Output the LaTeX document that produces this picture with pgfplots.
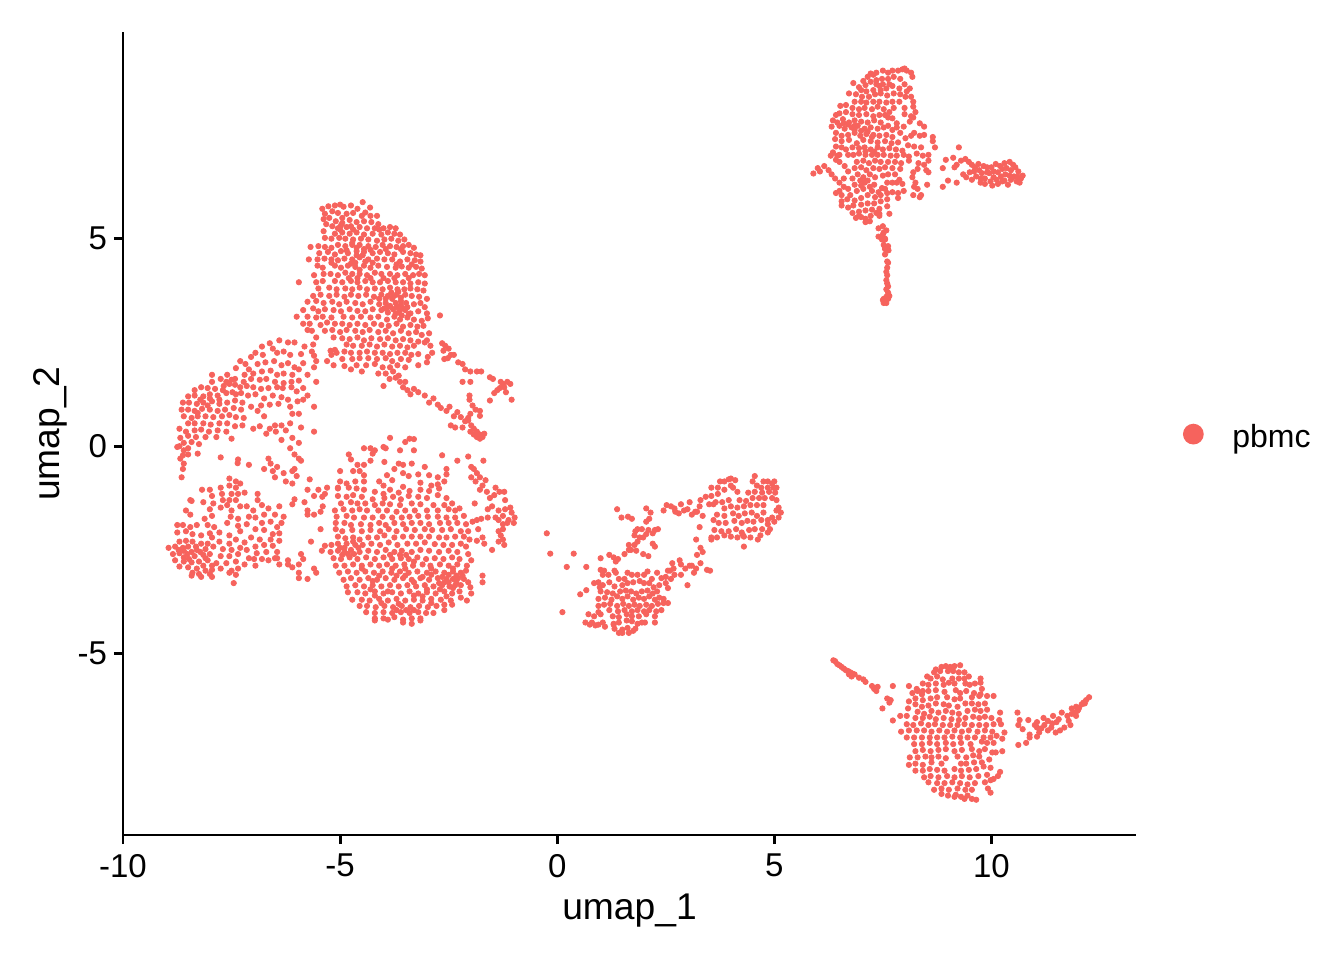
\documentclass[border=0pt]{standalone}
\usepackage{pgfplots}
\pgfplotsset{compat=1.18}
\usepackage{fontspec}
\setmainfont{Liberation Sans}
\definecolor{pbmc}{HTML}{F6635D}
\begin{document}
\begin{tikzpicture}[x=1pt,y=1pt]
\path[use as bounding box] (0,0) rectangle (672,480);
\begin{axis}[
    scale only axis,
    at={(61.5pt,62.5pt)},
    anchor=south west,
    width=506.5pt,
    height=401.5pt,
    xmin=-10, xmax=13.33,
    ymin=-9.37, ymax=9.98,
    axis lines*=left,
    axis line style={-,line width=1.4pt,black},
    tick style={line width=1.4pt,black},
    tick align=outside,
    major tick length=4.5pt,
    xtick={-10,-5,0,5,10},
    ytick={-5,0,5},
    /pgf/number format/assume math mode=true,
    ticklabel style={font=\fontsize{16.5}{16.5}\selectfont},
    xticklabel style={yshift=-1.5pt},
    xlabel={umap\_1},
    ylabel={umap\_2},
    label style={font=\fontsize{18.6}{18.6}\selectfont},
    xlabel style={yshift=-1.5pt},
    ylabel style={yshift=-1.5pt},
    legend style={draw=none,fill=none,at={(1.0434,0.4955)},anchor=west,font=\fontsize{16}{16}\selectfont,inner sep=0pt},
    legend image code/.code={\fill[pbmc,draw=none] (6.5pt,1.5pt) circle (5.2pt);\path[draw=none,fill=none] (0,0) rectangle (24pt,1pt);},
]
\addplot[only marks,mark=*,mark size=1.33pt,color=pbmc,mark options={draw=none,fill=pbmc}] coordinates {
% top cluster
(-4.48,5.88)(-4.31,5.75)(-5.41,5.72)(-5.27,5.78)(-5.12,5.8)(-5.0,5.82)(-4.92,5.77)(-4.75,5.8)(-4.6,5.72)(-4.42,5.63)(-5.35,5.6)(-5.18,5.66)(-5.05,5.62)(-4.85,5.6)(-4.7,5.62)(-4.5,5.55)(-4.3,5.55)(-4.15,5.55)
(-5.38,5.47)(-5.25,5.5)(-5.1,5.42)(-4.95,5.5)(-4.78,5.45)(-4.62,5.4)(-4.45,5.42)(-4.28,5.4)(-4.12,5.35)(-5.32,5.35)(-5.18,5.3)(-4.98,5.32)(-4.85,5.28)(-4.55,5.28)(-4.38,5.25)(-4.2,5.25)(-4.0,5.25)(-3.85,5.28)(-3.72,5.25)
(-5.38,5.18)(-5.12,5.12)(-4.95,5.15)(-4.78,5.12)(-4.62,5.15)(-4.45,5.1)(-4.25,5.12)(-4.05,5.1)(-3.9,5.15)(-3.75,5.12)(-3.62,5.1)(-5.35,5.02)(-5.2,5.0)(-5.02,5.02)(-4.88,5.0)(-4.7,4.98)(-4.52,5.0)(-4.35,4.98)(-4.15,4.95)(-3.98,4.98)(-3.82,5.0)(-3.66,4.95)(-3.52,4.98)
(-5.68,4.8)(-5.5,4.82)(-5.35,4.8)(-5.2,4.78)(-5.05,4.85)(-4.88,4.82)(-4.72,4.85)(-4.55,4.85)(-4.35,4.82)(-4.18,4.8)(-4.02,4.85)(-3.85,4.82)(-3.7,4.8)(-3.55,4.82)(-3.42,4.85)(-3.3,4.78)
(-5.72,4.5)(-5.48,4.65)(-5.28,4.68)(-5.12,4.62)(-4.98,4.7)(-4.82,4.65)(-4.62,4.7)(-4.45,4.68)(-4.25,4.65)(-4.08,4.68)(-3.9,4.65)(-3.75,4.62)(-3.55,4.68)(-3.38,4.65)(-3.25,4.62)(-3.15,4.6)
(-5.52,4.5)(-5.36,4.52)(-5.2,4.5)(-5.05,4.48)(-4.9,4.52)(-4.72,4.5)(-4.55,4.55)(-4.35,4.5)(-4.15,4.52)(-3.98,4.5)(-3.8,4.5)(-3.62,4.45)(-3.45,4.5)(-3.28,4.48)(-3.15,4.45)
(-5.52,4.35)(-5.4,4.3)(-5.12,4.35)(-4.98,4.3)(-4.82,4.35)(-4.65,4.32)(-4.45,4.35)(-4.3,4.3)(-4.12,4.35)(-3.92,4.32)(-3.72,4.3)(-3.58,4.33)(-3.42,4.3)(-3.25,4.32)(-3.12,4.28)
(-5.6,4.12)(-5.38,4.15)(-5.22,4.15)(-5.05,4.12)(-4.88,4.18)(-4.72,4.15)(-4.55,4.15)(-4.38,4.12)(-4.2,4.18)(-4.05,4.15)(-3.85,4.15)(-3.68,4.12)(-3.5,4.15)(-3.32,4.12)(-3.18,4.15)(-3.05,4.12)
(-5.95,3.95)(-5.55,3.95)(-5.4,3.98)(-5.12,3.98)(-4.95,3.95)(-4.75,3.98)(-4.6,3.95)(-4.42,3.98)(-4.25,3.95)(-4.08,3.95)(-3.9,3.98)(-3.72,3.95)(-3.55,3.95)(-3.38,3.92)(-3.2,3.95)(-3.05,3.92)
(-5.5,3.8)(-5.25,3.82)(-5.08,3.78)(-4.88,3.8)(-4.72,3.78)(-4.55,3.82)(-4.38,3.78)(-4.2,3.8)(-4.02,3.78)(-3.85,3.82)(-3.68,3.78)(-3.52,3.78)(-3.38,3.8)(-3.22,3.78)(-3.08,3.75)
(-5.62,3.62)(-5.45,3.65)(-5.25,3.62)(-5.08,3.65)(-4.9,3.6)(-4.75,3.65)(-4.58,3.62)(-4.4,3.65)(-4.22,3.6)(-4.05,3.65)(-3.9,3.62)(-3.8,3.55)(-3.7,3.65)(-3.6,3.58)(-3.5,3.65)(-3.35,3.62)(-3.18,3.6)(-3.0,3.55)
(-5.75,3.48)(-5.55,3.5)(-5.38,3.45)(-5.18,3.48)(-5.02,3.42)(-4.85,3.48)(-4.65,3.45)(-4.48,3.42)(-4.3,3.48)(-4.1,3.42)(-3.95,3.45)(-3.85,3.38)(-3.72,3.45)(-3.6,3.4)(-3.48,3.45)(-3.3,3.42)(-3.15,3.45)(-3.05,3.35)
(-5.85,3.28)(-5.62,3.32)(-5.5,3.25)(-5.35,3.3)(-5.15,3.28)(-4.98,3.25)(-4.78,3.3)(-4.6,3.26)(-4.42,3.25)(-4.25,3.3)(-4.05,3.28)(-3.9,3.22)(-3.78,3.3)(-3.65,3.22)(-3.5,3.28)(-3.38,3.2)(-3.2,3.25)(-3.0,3.2)
(-6.0,3.12)(-5.75,3.12)(-5.55,3.1)(-5.4,3.12)(-5.2,3.1)(-4.92,3.12)(-4.72,3.1)(-4.52,3.12)(-4.3,3.1)(-4.12,3.12)(-3.92,3.05)(-3.75,3.12)(-3.62,3.05)(-3.45,3.1)(-3.3,3.05)(-3.12,3.02)(-2.98,3.08)
(-5.85,2.95)(-5.7,2.95)(-5.45,2.92)(-5.3,2.98)(-5.12,2.95)(-4.95,2.95)(-4.78,2.92)(-4.6,2.95)(-4.42,2.92)(-4.22,2.95)(-4.05,2.92)(-3.88,2.9)(-3.7,2.95)(-3.55,2.88)(-3.38,2.92)(-3.22,2.88)(-3.08,2.9)
(-5.75,2.8)(-5.35,2.78)(-5.18,2.8)(-5.0,2.75)(-4.85,2.8)(-4.65,2.78)(-4.48,2.75)(-4.32,2.8)(-4.12,2.75)(-3.95,2.78)(-3.78,2.72)(-3.6,2.78)(-3.42,2.72)(-3.25,2.75)(-3.12,2.68)
(-5.15,2.62)(-4.95,2.6)(-4.78,2.58)(-4.6,2.62)(-4.45,2.55)(-4.28,2.6)(-4.08,2.58)(-3.9,2.6)(-3.72,2.55)(-3.55,2.58)(-3.38,2.55)(-3.2,2.52)(-4.85,2.45)(-4.7,2.42)(-4.5,2.42)(-4.32,2.45)(-4.15,2.4)(-3.98,2.45)(-3.8,2.4)(-3.62,2.42)(-3.45,2.38)(-3.3,2.42)
(-5.2,2.2)(-5.3,2.05)(-5.55,2.05)(-5.08,2.25)(-4.9,2.28)(-4.75,2.25)(-4.55,2.25)(-4.38,2.28)(-4.2,2.25)(-4.02,2.25)(-3.85,2.22)(-3.68,2.25)(-3.5,2.25)(-3.36,2.2)(-3.2,2.22)(-4.95,2.1)(-4.72,2.1)(-4.55,2.12)(-4.35,2.12)(-4.15,2.1)(-3.95,2.12)(-3.8,2.05)(-3.6,2.1)(-3.42,2.08)
(-5.12,2.32)(-5.22,2.3)(-4.62,1.95)(-4.4,1.95)(-4.2,1.98)(-4.02,1.9)(-3.85,1.9)(-3.68,1.95)(-3.5,1.9)(-4.9,1.93)(-4.75,1.85)(-4.5,1.8)(-4.12,1.75)(-3.95,1.75)(-3.78,1.8)(-5.15,1.95)(-3.86,1.62)
(-2.7,3.15)(-2.95,2.72)(-3.0,2.55)(-2.92,2.42)(-3.05,2.5)(-2.88,2.25)(-2.98,2.15)(-3.0,2.02)
(-4.8,4.05)(-4.6,4.05)(-4.3,4.05)(-4.0,4.05)(-3.75,4.05)(-3.42,4.05)(-5.2,4.42)(-4.65,4.42)(-4.25,4.42)(-3.7,4.38)(-3.35,4.38)(-5.0,5.22)(-4.7,5.22)(-4.1,5.22)(-4.85,4.72)(-4.3,4.73)(-3.95,4.75)(-3.6,4.75)
(-4.1,3.55)(-3.95,3.55)(-3.78,3.6)(-3.6,3.5)(-3.9,3.35)(-3.7,3.35)(-3.55,3.32)(-3.72,3.2)(-3.58,3.15)(-3.42,3.18)
(-3.82,3.7)(-3.66,3.72)(-3.98,3.32)(-3.62,3.28)(-3.45,3.35)(-4.72,4.9)(-4.62,4.78)(-4.45,4.75)(-4.62,4.6)(-4.48,4.6)(-4.75,4.4)(-4.55,4.25)(-4.42,4.45)(-4.95,5.38)(-5.05,5.25)(-4.75,5.3)
% line from the top cluster to the centre
(-3.72,1.65)(-3.62,1.55)(-3.55,1.42)(-3.45,1.35)(-3.38,1.25)(-3.3,1.38)(-3.2,1.3)(-3.05,1.22)(-2.95,1.05)(-2.85,1.15)(-2.75,1.0)(-2.68,0.92)(-2.55,0.85)(-2.48,0.95)(-2.38,0.72)(-2.3,0.82)(-2.22,0.7)(-2.12,0.6)(-2.05,0.62)(-1.98,0.5)(-1.92,0.42)(-1.85,0.35)(-1.78,0.28)(-1.92,0.28)(-2.0,0.35)(-1.72,0.22)(-1.85,0.22)(-2.18,0.45)(-2.35,0.45)(-2.45,0.5)(-1.68,0.3)(-1.78,0.18)
% branch on the right
(-2.65,2.48)(-2.58,2.42)(-2.62,2.3)(-2.5,2.35)(-2.45,2.2)(-2.52,2.12)(-2.38,2.2)(-2.28,2.02)(-2.18,1.98)(-2.12,1.85)(-2.0,1.8)(-1.85,1.8)(-1.75,1.8)(-2.18,1.55)(-2.0,1.55)(-1.55,1.66)(-1.48,1.62)(-1.3,1.55)(-1.25,1.5)(-1.15,1.55)(-1.08,1.5)(-1.38,1.35)(-1.32,1.4)(-1.22,1.42)(-1.18,1.3)(-1.45,1.28)(-1.55,1.1)(-1.05,1.12)(-2.02,1.22)(-2.02,1.12)(-1.95,0.98)(-1.88,0.88)(-1.78,0.85)(-1.78,0.73)(-2.05,0.68)(-2.0,0.78)
(-2.6,2.1)(-3.2,1.95)(-3.5,1.55)(-3.65,1.7)(-4.0,1.45)
% upper left band
(-6.62,2.48)(-6.4,2.55)(-6.2,2.5)(-6.05,2.5)(-5.65,2.78)(-5.55,2.62)(-5.62,2.45)(-5.82,2.4)(-6.8,2.4)(-6.55,2.35)(-6.95,2.25)(-7.05,2.15)(-6.78,2.2)(-6.45,2.25)(-6.3,2.28)(-6.15,2.2)(-5.9,2.22)(-5.65,2.28)(-5.6,2.18)(-7.18,1.98)(-7.3,2.05)(-7.1,1.85)(-6.9,1.98)(-6.72,2.02)(-6.52,2.05)(-6.35,1.95)(-6.2,2.0)(-6.05,1.9)(-5.85,2.0)
(-7.4,1.88)(-7.2,1.72)(-7.0,1.75)(-6.8,1.8)(-6.6,1.82)(-6.45,1.72)(-6.3,1.75)(-6.1,1.72)(-5.95,1.85)(-5.6,1.9)(-5.75,1.72)(-7.95,1.72)(-7.95,1.55)(-7.75,1.62)(-7.6,1.72)(-7.42,1.62)(-7.22,1.55)(-7.05,1.62)(-6.85,1.6)(-6.7,1.62)(-6.5,1.55)(-6.3,1.52)(-6.12,1.55)(-5.95,1.58)(-5.55,1.55)(-5.85,1.4)
(-8.35,1.35)(-8.2,1.42)(-8.05,1.4)(-7.88,1.38)(-7.68,1.45)(-7.55,1.5)(-7.42,1.48)(-7.3,1.42)(-7.15,1.45)(-7.0,1.42)(-6.82,1.38)(-6.65,1.4)(-6.45,1.42)(-6.32,1.4)(-6.12,1.42)(-6.0,1.32)(-5.75,1.22)
(-8.5,1.2)(-8.35,1.22)(-8.15,1.2)(-8.0,1.25)(-7.82,1.22)(-7.62,1.28)(-7.48,1.3)(-7.28,1.28)(-7.12,1.22)(-6.95,1.25)(-6.75,1.15)(-6.55,1.22)(-6.35,1.18)(-6.2,1.12)(-5.98,1.08)(-5.85,1.12)
(-8.62,1.05)(-8.48,1.05)(-8.3,1.02)(-8.15,1.05)(-7.95,1.08)(-7.78,1.02)(-7.6,1.05)(-7.42,1.1)(-7.25,1.05)(-7.05,0.95)(-6.82,0.98)(-6.62,1.0)(-6.42,1.02)(-6.15,0.95)(-5.6,0.95)(-8.65,0.88)(-8.5,0.88)(-8.35,0.85)(-8.18,0.9)(-8.0,0.88)(-7.82,0.85)(-7.65,0.88)(-7.45,0.92)(-7.28,0.88)(-6.9,0.85)(-5.95,0.78)(-6.1,0.78)
(-8.6,0.72)(-8.42,0.68)(-8.28,0.72)(-8.1,0.72)(-7.92,0.7)(-7.72,0.72)(-7.55,0.75)(-7.4,0.7)(-7.22,0.68)(-6.75,0.72)(-6.5,0.5)(-6.35,0.5)(-6.15,0.55)(-5.9,0.45)(-8.5,0.55)(-8.35,0.55)(-8.15,0.55)(-7.98,0.52)(-7.78,0.55)(-7.6,0.55)(-7.42,0.48)(-7.25,0.5)(-6.85,0.48)(-6.62,0.42)(-6.48,0.35)(-6.25,0.38)
(-8.7,0.42)(-8.55,0.35)(-8.35,0.38)(-8.2,0.4)(-8.02,0.35)(-7.82,0.38)(-7.62,0.35)(-7.0,0.42)(-6.7,0.3)(-5.6,0.35)(-8.68,0.2)(-8.5,0.25)(-8.32,0.22)(-8.1,0.22)(-7.85,0.22)(-7.5,0.18)(-6.1,0.2)(-6.35,0.15)(-5.95,0.08)(-8.6,0.08)(-8.42,0.1)(-8.25,0.05)
(-8.75,-0.02)(-8.6,-0.1)(-8.7,0.0)(-8.5,-0.05)(-8.62,-0.22)(-8.68,-0.3)(-8.6,-0.42)(-8.62,-0.55)(-8.65,-0.75)(-8.28,-0.18)(-8.5,-0.2)
(-7.5,1.6)(-7.62,1.55)(-7.7,1.35)(-7.4,1.25)(-7.78,1.12)(-8.0,1.15)(-8.22,1.12)(-8.05,0.98)(-8.28,0.8)
% scatter between the left and centre groups
(-7.75,-0.27)(-7.35,-0.32)(-7.36,-0.41)(-6.65,-0.3)(-6.6,-0.42)(-6.45,-0.5)(-6.05,-0.2)(-5.9,-0.35)(-6.1,-0.6)(-6.05,-0.55)(-6.0,-0.72)(-6.75,-0.55)(-7.1,-0.45)(-6.5,-0.75)(-6.25,-0.85)(-6.55,-0.6)(-6.3,-0.65)(-6.1,-0.9)(-5.7,-0.8)(-5.95,-0.3)(-6.15,-0.05)
(-5.75,-1.05)(-5.5,-1.05)(-5.35,-1.15)(-5.05,-1.0)(-5.3,-1.0)(-5.41,-1.22)(-5.4,-1.45)(-6.05,-1.28)(-5.82,-1.35)(-5.6,-1.2)(-6.1,-1.4)(-6.4,-1.45)(-5.75,-1.55)(-5.45,-1.58)(-5.75,-1.65)(-5.45,-2.0)(-5.6,-1.65)
(-5.67,-2.3)(-5.42,-2.52)(-5.35,-2.4)(-5.9,-2.6)(-5.85,-2.72)(-5.95,-2.85)(-6.2,-2.75)(-6.2,-2.85)(-6.45,-2.7)(-5.95,-3.05)(-5.6,-2.95)(-5.95,-3.18)(-5.75,-3.2)(-5.55,-3.05)(-6.1,-2.92)(-6.4,-2.85)
% lower left cluster
(-8.18,-1.05)(-7.55,-0.78)(-7.4,-0.85)(-7.3,-0.9)(-7.55,-0.95)(-7.75,-1.0)(-7.4,-1.0)(-8.0,-1.05)(-7.95,-1.2)(-7.72,-1.15)(-7.5,-1.15)(-7.35,-1.15)(-7.2,-1.12)(-6.9,-1.3)(-6.9,-1.15)(-8.15,-1.35)(-7.92,-1.38)(-7.7,-1.3)(-7.55,-1.3)(-7.4,-1.3)(-7.15,-1.45)
(-8.45,-1.3)(-8.42,-1.32)(-8.0,-1.52)(-7.75,-1.48)(-7.6,-1.42)(-7.5,-1.55)(-7.3,-1.45)(-7.0,-1.55)(-6.8,-1.42)(-6.65,-1.5)(-6.5,-1.65)(-6.75,-1.65)(-6.3,-1.7)(-6.35,-1.85)(-8.55,-1.55)(-8.45,-1.65)
(-8.12,-1.75)(-7.95,-1.68)(-7.52,-1.7)(-7.35,-1.75)(-7.1,-1.7)(-6.95,-1.72)(-6.8,-1.85)(-6.6,-1.82)(-6.45,-1.95)(-8.75,-1.9)(-8.62,-1.9)(-8.45,-1.95)(-8.3,-1.9)(-8.05,-1.9)(-7.9,-1.95)(-7.6,-1.85)(-7.35,-1.92)(-7.15,-1.88)(-6.95,-2.0)(-6.75,-2.02)(-6.55,-2.12)(-6.4,-2.1)
(-8.75,-2.08)(-8.55,-2.05)(-8.4,-2.12)(-8.2,-2.15)(-8.0,-2.1)(-7.95,-2.2)(-7.78,-2.08)(-7.55,-2.15)(-7.3,-2.05)(-7.05,-2.2)(-6.85,-2.25)(-6.6,-2.25)(-6.4,-2.28)
(-8.7,-2.3)(-8.55,-2.28)(-8.4,-2.3)(-8.2,-2.35)(-8.05,-2.35)(-7.78,-2.3)(-7.55,-2.35)(-7.4,-2.25)(-7.2,-2.32)(-6.95,-2.42)(-6.75,-2.38)(-6.55,-2.4)(-6.45,-2.55)
(-8.95,-2.45)(-8.8,-2.42)(-8.62,-2.45)(-8.5,-2.42)(-8.3,-2.5)(-8.1,-2.48)(-7.92,-2.42)(-7.7,-2.48)(-7.5,-2.5)(-7.3,-2.45)(-7.15,-2.5)(-6.92,-2.58)(-6.7,-2.55)(-6.5,-2.7)(-6.65,-2.75)
(-8.85,-2.6)(-8.7,-2.58)(-8.52,-2.6)(-8.35,-2.65)(-8.15,-2.62)(-8.0,-2.6)(-7.75,-2.65)(-7.55,-2.65)(-7.35,-2.6)(-7.1,-2.7)(-6.98,-2.72)(-6.8,-2.72)
(-8.8,-2.75)(-8.6,-2.78)(-8.42,-2.8)(-8.25,-2.78)(-8.05,-2.75)(-7.85,-2.82)(-7.62,-2.82)(-7.4,-2.78)(-7.2,-2.85)(-6.95,-2.88)(-7.35,-2.95)
(-8.7,-2.9)(-8.5,-2.92)(-8.3,-2.95)(-8.15,-2.88)(-7.95,-2.98)(-7.75,-2.95)(-8.4,-3.05)(-8.25,-3.08)(-8.1,-3.0)(-7.95,-3.15)(-7.55,-3.05)(-7.5,-3.0)(-7.4,-3.1)(-7.45,-3.3)(-8.42,-3.12)(-8.2,-3.15)(-8.0,-3.08)
(-8.72,-2.5)(-8.6,-2.52)(-8.42,-2.55)(-8.6,-2.68)(-8.48,-2.72)(-8.32,-2.42)(-8.22,-2.55)(-8.1,-2.7)(-7.95,-2.88)
% big lower centre cluster
(-3.95,-0.05)(-4.0,-0.02)(-3.4,0.18)(-3.3,0.17)(-3.5,0.1)(-4.2,-0.1)(-4.3,-0.05)(-4.25,-0.18)(-4.45,-0.05)(-3.85,0.2)(-3.62,-0.1)(-3.3,-0.1)(-2.65,-0.22)(-2.3,-0.35)(-4.8,-0.2)(-4.75,-0.32)(-4.6,-0.45)(-4.45,-0.45)(-4.3,-0.35)(-3.98,-0.38)(-3.65,-0.42)(-3.55,-0.45)(-3.35,-0.42)(-3.05,-0.5)(-2.55,-0.55)
(-5.0,-0.6)(-4.7,-0.6)(-4.55,-0.6)(-4.45,-0.7)(-3.92,-0.7)(-3.75,-0.55)(-3.55,-0.65)(-3.42,-0.72)(-3.2,-0.68)(-2.95,-0.7)(-2.75,-0.75)(-2.55,-0.68)(-2.6,-0.85)
(-5.0,-0.85)(-4.85,-0.9)(-4.65,-0.85)(-4.45,-0.85)(-4.1,-0.85)(-4.0,-0.95)(-3.8,-0.82)(-3.55,-0.98)(-3.15,-0.88)(-2.9,-0.95)(-2.75,-0.92)
(-5.05,-1.02)(-4.8,-1.0)(-4.62,-1.02)(-4.45,-1.05)(-4.2,-1.1)(-4.0,-1.15)(-3.85,-1.05)(-3.65,-1.12)(-3.4,-1.08)(-3.15,-1.05)(-2.95,-1.08)(-2.72,-1.02)
(-5.05,-1.2)(-4.85,-1.22)(-4.7,-1.18)(-4.5,-1.22)(-4.25,-1.28)(-3.98,-1.25)(-3.78,-1.22)(-3.6,-1.28)(-3.42,-1.2)(-3.2,-1.22)(-3.0,-1.25)(-2.75,-1.18)(-2.55,-1.25)
(-4.98,-1.38)(-4.75,-1.35)(-4.6,-1.38)(-4.42,-1.38)(-4.2,-1.42)(-4.02,-1.38)(-3.85,-1.4)(-3.62,-1.42)(-3.35,-1.38)(-3.15,-1.4)(-2.85,-1.42)(-2.6,-1.42)(-2.42,-1.38)
(-5.12,-1.55)(-4.92,-1.52)(-4.72,-1.55)(-4.55,-1.52)(-4.38,-1.55)(-4.12,-1.55)(-3.92,-1.55)(-3.7,-1.58)(-3.5,-1.55)(-3.28,-1.55)(-3.0,-1.55)(-2.75,-1.55)(-2.5,-1.52)(-2.35,-1.55)
(-5.08,-1.7)(-4.85,-1.68)(-4.68,-1.72)(-4.45,-1.72)(-4.25,-1.72)(-4.02,-1.7)(-3.8,-1.72)(-3.58,-1.72)(-3.4,-1.7)(-3.2,-1.68)(-2.98,-1.7)(-2.75,-1.7)(-2.55,-1.72)(-2.35,-1.72)(-2.15,-1.68)
(-5.1,-1.85)(-4.9,-1.85)(-4.75,-1.9)(-4.52,-1.88)(-4.3,-1.9)(-4.1,-1.85)(-3.95,-1.9)(-3.75,-1.85)(-3.55,-1.88)(-3.35,-1.85)(-3.15,-1.85)(-2.95,-1.88)(-2.7,-1.85)(-2.5,-1.85)(-2.3,-1.85)(-2.1,-1.88)
(-5.1,-2.0)(-4.95,-2.05)(-4.72,-2.02)(-4.5,-2.05)(-4.3,-2.02)(-4.08,-2.05)(-3.88,-2.0)(-3.7,-2.05)(-3.48,-2.0)(-3.28,-2.02)(-3.05,-2.0)(-2.88,-2.02)(-2.65,-2.02)(-2.45,-2.0)(-2.22,-2.05)(-2.05,-2.05)
(-5.05,-2.18)(-4.88,-2.22)(-4.7,-2.2)(-4.55,-2.25)(-4.35,-2.2)(-4.15,-2.2)(-3.98,-2.15)(-3.75,-2.2)(-3.55,-2.18)(-3.35,-2.18)(-3.15,-2.18)(-2.95,-2.18)(-2.72,-2.2)(-2.55,-2.2)(-2.35,-2.18)(-2.15,-2.18)(-2.02,-2.25)
(-5.2,-2.38)(-5.05,-2.35)(-4.85,-2.35)(-4.65,-2.38)(-4.48,-2.38)(-4.28,-2.35)(-4.08,-2.38)(-3.88,-2.32)(-3.68,-2.38)(-3.45,-2.35)(-3.25,-2.35)(-3.05,-2.32)(-2.82,-2.36)(-2.62,-2.38)(-2.42,-2.38)(-2.22,-2.35)(-2.1,-2.42)
(-5.22,-2.55)(-5.05,-2.52)(-4.9,-2.55)(-4.75,-2.5)(-4.55,-2.55)(-4.35,-2.52)(-4.15,-2.55)(-3.95,-2.5)(-3.75,-2.55)(-3.58,-2.52)(-3.35,-2.55)(-3.15,-2.5)(-2.95,-2.52)(-2.72,-2.55)(-2.5,-2.52)(-2.3,-2.55)(-2.05,-2.6)
(-5.15,-2.7)(-4.98,-2.72)(-4.78,-2.68)(-4.6,-2.72)(-4.4,-2.68)(-4.2,-2.72)(-4.0,-2.68)(-3.8,-2.72)(-3.6,-2.7)(-3.42,-2.72)(-3.22,-2.68)(-3.02,-2.72)(-2.82,-2.7)(-2.62,-2.72)(-2.42,-2.68)(-2.25,-2.72)(-1.98,-2.75)
(-5.1,-2.88)(-4.9,-2.88)(-4.7,-2.85)(-4.5,-2.88)(-4.3,-2.85)(-4.1,-2.88)(-3.92,-2.85)(-3.72,-2.88)(-3.52,-2.85)(-3.32,-2.88)(-3.1,-2.85)(-2.92,-2.88)(-2.7,-2.85)(-2.5,-2.88)(-2.3,-2.85)(-2.08,-2.88)
(-5.02,-3.05)(-4.82,-3.02)(-4.62,-3.05)(-4.42,-3.02)(-4.22,-3.05)(-4.02,-3.02)(-3.82,-3.05)(-3.62,-3.02)(-3.42,-3.05)(-3.22,-3.02)(-3.0,-3.05)(-2.8,-3.02)(-2.6,-3.05)(-2.4,-3.02)(-2.22,-3.05)(-2.1,-3.0)
(-4.92,-3.22)(-4.75,-3.18)(-4.55,-3.22)(-4.35,-3.18)(-4.15,-3.22)(-3.95,-3.18)(-3.75,-3.22)(-3.55,-3.18)(-3.35,-3.22)(-3.15,-3.18)(-2.95,-3.22)(-2.75,-3.18)(-2.55,-3.2)(-2.4,-3.2)(-2.28,-3.18)(-1.72,-3.12)
(-4.85,-3.38)(-4.65,-3.35)(-4.45,-3.38)(-4.25,-3.35)(-4.05,-3.38)(-3.85,-3.35)(-3.65,-3.38)(-3.45,-3.35)(-3.25,-3.38)(-3.05,-3.35)(-2.85,-3.38)(-2.65,-3.35)(-2.48,-3.38)(-2.35,-3.35)(-1.72,-3.28)
(-4.82,-3.52)(-4.6,-3.52)(-4.42,-3.55)(-4.2,-3.5)(-4.0,-3.55)(-3.8,-3.52)(-3.6,-3.55)(-3.4,-3.5)(-3.2,-3.55)(-3.0,-3.52)(-2.8,-3.55)(-2.6,-3.5)(-2.42,-3.55)(-2.25,-3.5)(-2.0,-3.4)(-1.98,-3.55)
(-4.72,-3.7)(-4.5,-3.7)(-4.32,-3.72)(-4.1,-3.68)(-3.9,-3.72)(-3.7,-3.68)(-3.5,-3.72)(-3.3,-3.7)(-3.1,-3.72)(-2.9,-3.68)(-2.68,-3.7)(-2.45,-3.72)(-2.22,-3.65)(-2.08,-3.72)
(-4.55,-3.85)(-4.38,-3.85)(-4.18,-3.88)(-3.98,-3.85)(-3.78,-3.88)(-3.58,-3.85)(-3.38,-3.88)(-3.18,-3.85)(-2.98,-3.88)(-2.78,-3.85)(-2.6,-3.82)(-2.42,-3.82)
(-4.4,-4.0)(-4.2,-4.02)(-4.0,-4.0)(-3.8,-4.02)(-3.6,-4.0)(-3.4,-4.02)(-3.2,-4.0)(-3.02,-4.02)(-2.85,-4.02)(-2.6,-3.95)
(-4.2,-4.15)(-4.0,-4.15)(-3.75,-4.12)(-3.55,-4.18)(-3.35,-4.15)(-3.15,-4.15)(-4.2,-4.2)(-3.9,-4.18)(-3.55,-4.25)(-3.35,-4.28)(-3.15,-4.2)
(-2.15,-3.2)(-2.05,-3.28)(-2.22,-3.35)(-2.4,-2.95)(-3.5,-2.95)(-3.8,-2.95)(-2.6,-3.28)(-2.7,-3.45)(-2.55,-3.62)(-2.4,-3.42)(-4.2,-3.6)(-4.5,-2.95)(-4.7,-2.3)(-4.9,-2.45)(-2.9,-2.95)(-3.1,-3.15)(-3.0,-3.45)(-3.3,-3.6)(-3.65,-3.8)(-3.9,-3.5)(-4.05,-3.78)(-4.25,-3.25)
(-2.5,-3.1)(-2.65,-3.15)(-2.32,-3.12)(-2.5,-3.28)(-2.32,-3.28)(-2.18,-3.12)(-2.9,-3.1)(-2.72,-3.3)(-4.95,-2.62)(-4.82,-2.6)(-4.68,-2.6)(-5.0,-2.45)(-4.58,-2.45)(-3.62,-2.62)(-3.48,-2.62)(-3.3,-2.78)(-3.85,-2.62)(-4.1,-3.12)(-3.7,-3.12)(-3.5,-3.12)(-3.3,-3.28)(-3.1,-3.62)(-2.9,-3.78)(-3.48,-3.95)(-3.7,-3.95)(-3.3,-3.95)(-4.3,-3.45)
% right fringe of the centre group
(-2.05,-0.25)(-1.98,-0.5)(-1.92,-0.55)(-1.7,-0.35)(-1.85,-0.65)(-1.78,-0.75)(-1.65,-0.82)(-1.98,-0.75)(-1.88,-0.85)(-1.72,-0.95)(-1.78,-1.05)(-1.62,-1.1)(-1.55,-1.25)(-1.42,-1.0)(-1.45,-1.18)(-1.33,-1.1)(-1.22,-1.1)(-1.2,-1.3)(-1.08,-1.48)
(-1.5,-1.45)(-1.35,-1.55)(-1.2,-1.52)(-1.05,-1.6)(-0.98,-1.72)(-1.25,-1.68)(-1.12,-1.78)(-1.15,-1.85)(-1.0,-1.85)(-1.35,-1.78)(-1.25,-1.88)(-1.42,-1.72)(-1.6,-1.72)(-1.75,-1.75)(-1.85,-1.78)(-1.95,-1.82)(-1.6,-1.52)(-1.25,-2.0)(-1.35,-2.05)(-1.3,-2.15)(-1.25,-2.25)(-1.35,-2.3)(-1.22,-2.38)(-1.5,-2.5)(-2.25,-1.5)(-1.82,-2.0)(-1.9,-1.38)(-1.72,-2.2)(-1.68,-2.35)(-1.85,-2.28)
% middle group, outliers
(-0.24,-2.1)(-0.16,-2.59)(0.38,-2.59)(0.22,-2.91)(0.67,-2.91)(0.12,-4.0)(0.53,-3.57)(0.67,-3.47)
% middle group, lower blob
(1.0,-2.7)(1.2,-2.62)(1.3,-2.68)(1.4,-2.72)(1.55,-2.6)(1.32,-3.0)(1.0,-2.98)(1.08,-3.0)(1.35,-2.78)
(0.95,-3.28)(0.98,-3.4)(1.05,-3.1)(1.18,-3.1)(1.35,-3.05)(1.42,-3.2)(1.55,-3.2)(1.62,-3.05)(1.72,-3.1)(1.85,-3.1)(2.0,-3.1)(2.08,-3.02)(2.18,-3.2)(2.3,-3.05)(2.4,-3.18)(2.5,-3.15)(2.62,-3.2)
(0.85,-3.3)(1.05,-3.35)(1.2,-3.28)(1.32,-3.38)(1.5,-3.35)(1.62,-3.3)(1.75,-3.28)(1.9,-3.25)(2.0,-3.3)(2.12,-3.3)(2.22,-3.4)(2.35,-3.35)(2.5,-3.3)
(1.0,-3.5)(1.15,-3.52)(1.28,-3.55)(1.45,-3.5)(1.58,-3.48)(1.7,-3.5)(1.82,-3.55)(1.95,-3.5)(2.08,-3.48)(2.2,-3.55)(2.3,-3.5)(2.55,-3.42)
(0.95,-3.68)(1.1,-3.65)(1.25,-3.7)(1.38,-3.62)(1.5,-3.68)(1.62,-3.62)(1.75,-3.7)(1.88,-3.65)(2.0,-3.68)(2.12,-3.62)(2.25,-3.7)(2.35,-3.65)(2.45,-3.68)
(0.95,-3.85)(1.08,-3.82)(1.22,-3.8)(1.38,-3.85)(1.52,-3.8)(1.65,-3.85)(1.78,-3.82)(1.9,-3.85)(2.05,-3.82)(2.18,-3.85)(2.32,-3.8)(2.45,-3.78)(2.55,-3.78)
(0.95,-4.0)(1.2,-3.95)(1.4,-3.98)(1.55,-3.95)(1.72,-3.98)(1.85,-3.95)(2.0,-3.98)(2.12,-3.95)(2.28,-3.98)(2.4,-3.95)
(0.72,-4.05)(0.85,-4.1)(1.0,-4.05)(1.28,-4.1)(1.42,-4.12)(1.6,-4.05)(1.72,-4.1)(1.88,-4.1)(2.25,-4.1)(2.05,-4.05)
(0.65,-4.25)(0.8,-4.25)(0.95,-4.3)(1.05,-4.25)(1.3,-4.28)(1.42,-4.25)(1.6,-4.2)(1.72,-4.22)(1.85,-4.28)(1.95,-4.25)(2.02,-4.25)(2.25,-4.25)
(0.75,-4.3)(0.88,-4.32)(1.1,-4.35)(1.32,-4.4)(1.5,-4.42)(1.62,-4.38)(1.75,-4.45)(1.5,-4.5)(1.42,-4.5)(1.65,-4.5)(1.8,-4.4)(1.3,-4.3)
% middle group, links
(1.38,-1.52)(1.48,-1.72)(1.63,-1.7)(1.72,-1.75)(2.05,-1.5)(2.15,-1.6)(2.12,-1.75)(2.05,-1.82)(1.95,-2.0)(1.85,-2.0)(1.8,-2.05)(1.78,-2.15)(2.1,-2.02)(2.25,-2.02)(2.32,-2.0)(2.2,-2.1)(2.05,-2.12)(1.98,-2.2)(1.9,-2.2)(1.85,-2.3)(1.78,-2.38)(1.65,-2.38)(1.65,-2.5)(2.2,-2.35)(2.25,-2.42)(1.7,-2.5)(1.82,-2.52)(1.98,-2.6)(2.1,-2.65)
(2.45,-1.55)(2.52,-1.42)(2.62,-1.45)(2.72,-1.58)(2.8,-1.62)(2.7,-1.5)(2.92,-1.55)(3.0,-1.52)(3.05,-1.35)(3.1,-1.65)(3.18,-1.58)(3.28,-1.45)(3.3,-1.3)(2.85,-1.4)(3.55,-1.2)(3.42,-1.22)(3.65,-1.35)(3.5,-1.4)
(2.6,-3.0)(2.65,-2.82)(2.82,-2.75)(2.85,-2.85)(2.95,-2.95)(3.1,-2.88)(3.2,-2.95)(3.3,-2.82)(3.45,-2.98)(3.52,-3.0)(3.15,-3.05)(3.05,-2.88)(2.7,-3.1)(2.85,-3.1)(2.68,-2.95)(2.55,-3.0)(3.0,-3.35)
(3.2,-2.25)(3.3,-2.45)(3.35,-2.55)(3.22,-2.62)(3.28,-1.95)(3.35,-1.68)(3.22,-1.58)
% middle group, upper right blob
(3.75,-0.85)(3.85,-0.85)(3.95,-0.8)(4.0,-0.78)(4.0,-0.95)(4.1,-0.82)(4.05,-1.0)(4.15,-1.1)(3.85,-1.05)(3.7,-1.15)(3.55,-1.0)(3.7,-1.0)
(4.55,-0.72)(4.5,-0.85)(4.6,-0.95)(4.75,-0.85)(4.85,-0.85)(4.95,-0.9)(5.0,-0.85)(4.7,-1.0)(4.85,-1.0)(4.98,-1.0)(5.05,-1.0)(4.4,-1.12)(4.55,-1.1)(4.72,-1.12)(4.88,-1.1)(5.02,-1.12)
(3.6,-1.4)(3.8,-1.35)(3.95,-1.3)(4.2,-1.3)(4.35,-1.32)(4.5,-1.25)(4.65,-1.25)(4.78,-1.25)(4.95,-1.25)(5.05,-1.3)(3.85,-1.5)(4.0,-1.45)(4.15,-1.48)(4.3,-1.45)(4.45,-1.42)(4.6,-1.42)(4.75,-1.42)(5.1,-1.48)(5.15,-1.6)(5.05,-1.55)
(3.68,-1.65)(3.85,-1.68)(4.05,-1.62)(4.18,-1.68)(4.32,-1.62)(4.48,-1.6)(4.6,-1.68)(4.75,-1.6)(4.95,-1.72)(5.1,-1.72)(3.6,-1.78)(3.72,-1.85)(3.88,-1.85)(4.08,-1.8)(4.25,-1.85)(4.38,-1.8)(4.52,-1.82)(4.7,-1.78)(4.85,-1.88)(5.0,-1.82)(4.85,-1.78)
(3.62,-2.02)(3.78,-2.05)(3.95,-2.05)(4.12,-2.0)(4.25,-2.08)(4.42,-2.02)(4.55,-2.0)(4.72,-2.0)(4.9,-2.0)(4.85,-2.08)(3.55,-2.2)(3.68,-2.2)(3.85,-2.15)(4.0,-2.18)(4.15,-2.2)(4.3,-2.18)(4.45,-2.2)(3.55,-2.25)(4.28,-2.15)(4.68,-2.15)(4.3,-2.42)(4.62,-2.25)
% top right group, tip and blob
(5.9,6.57)(6.0,6.7)(6.05,6.62)(6.15,6.75)(6.25,6.65)(6.32,6.55)(6.4,6.45)(6.3,7.0)(6.35,7.08)(6.42,6.9)(6.5,6.85)(6.45,7.0)(6.62,6.75)(6.7,6.62)
(6.6,6.45)(6.5,6.35)(6.6,6.25)(6.5,6.15)(6.42,6.1)(6.55,6.05)(6.7,6.2)(6.85,6.3)(6.98,6.4)(7.08,6.35)(6.75,6.05)(6.9,6.15)(7.05,6.2)(7.2,6.25)(7.3,6.3)(7.48,6.22)(7.6,6.35)(7.72,6.35)(7.82,6.35)(7.95,6.32)
(6.55,5.9)(6.68,5.95)(6.85,5.92)(7.0,5.98)(7.15,6.05)(7.32,6.0)(7.45,6.05)(7.6,6.1)(7.72,6.12)(7.85,6.1)(7.98,6.15)(6.55,5.8)(6.7,5.75)(6.82,5.8)(7.0,5.82)(7.15,5.85)(7.3,5.85)(7.45,5.9)(7.6,5.95)(7.85,5.98)
(6.8,5.62)(6.95,5.65)(7.1,5.68)(7.25,5.7)(7.42,5.72)(7.6,5.78)(6.88,5.5)(7.0,5.52)(6.95,5.55)(7.1,5.48)(7.22,5.55)(7.35,5.62)(7.1,5.4)(7.2,5.42)(7.42,5.55)
(7.42,5.6)(7.65,5.6)(7.4,5.25)(7.5,5.3)(7.52,5.15)(7.58,5.2)(7.4,5.05)(7.48,4.98)(7.55,5.0)(7.52,4.85)(7.55,4.98)(7.5,5.1)(7.55,4.62)(7.55,4.75)(7.62,4.82)(7.55,4.78)
(7.6,4.8)(7.63,4.72)(7.6,4.45)(7.62,4.42)(7.6,4.3)(7.58,4.2)(7.6,4.12)(7.58,4.0)(7.6,3.92)(7.62,3.85)(7.58,3.78)(7.62,3.7)(7.62,3.55)(7.55,3.5)(7.58,3.45)(7.52,3.45)(7.5,3.52)(7.58,3.6)(7.65,3.62)(7.52,3.55)
(7.72,9.05)(7.85,9.05)(7.95,9.08)(8.0,9.1)(8.05,9.05)(8.15,9.0)(8.18,8.9)(7.62,9.0)(7.5,9.05)(7.35,9.0)(7.28,8.95)(7.22,8.98)(7.15,8.9)(7.05,8.8)(6.82,8.75)
(6.95,8.65)(7.1,8.7)(7.22,8.78)(7.35,8.82)(7.48,8.85)(7.62,8.85)(7.75,8.9)(7.9,8.85)(8.0,8.72)(7.12,8.55)(7.28,8.58)(7.42,8.68)(7.58,8.62)(7.72,8.68)(7.88,8.62)(8.05,8.55)(8.12,8.62)
(6.72,8.5)(6.88,8.48)(7.02,8.42)(7.18,8.42)(7.32,8.48)(7.45,8.5)(7.6,8.45)(7.75,8.5)(7.9,8.48)(8.02,8.42)(6.85,8.3)(7.0,8.3)(7.12,8.28)(7.28,8.3)(7.42,8.3)(7.58,8.28)(7.72,8.3)(7.88,8.3)(8.15,8.42)(8.2,8.3)
(6.52,8.2)(6.65,8.22)(6.8,8.15)(6.95,8.12)(7.08,8.15)(7.25,8.12)(7.38,8.18)(7.52,8.12)(7.65,8.05)(7.75,8.15)(8.0,8.15)(8.2,8.18)(8.25,8.05)(6.5,8.02)(6.65,8.05)(6.8,8.0)(6.95,7.98)(7.12,8.0)(7.28,7.95)(7.42,7.98)(7.55,7.98)(8.0,8.0)(8.15,7.95)
(6.42,7.98)(6.35,7.85)(6.45,7.8)(6.58,7.88)(6.72,7.8)(6.85,7.85)(7.0,7.82)(7.15,7.8)(7.3,7.85)(7.45,7.8)(7.62,7.92)(7.72,7.9)(7.82,7.78)(8.2,7.92)(8.12,7.82)
(6.32,7.7)(6.5,7.72)(6.62,7.65)(6.78,7.68)(6.92,7.72)(7.08,7.65)(7.22,7.68)(7.38,7.65)(7.52,7.68)(7.62,7.72)(7.72,7.62)(7.82,7.68)(7.98,7.7)(8.35,7.78)(8.45,7.7)
(6.42,7.55)(6.55,7.48)(6.7,7.5)(6.85,7.55)(6.98,7.48)(7.12,7.52)(7.28,7.5)(7.42,7.48)(7.58,7.5)(7.72,7.45)(7.9,7.55)(8.02,7.42)(8.22,7.55)(8.35,7.48)(6.4,7.4)(6.55,7.35)(6.72,7.38)(6.9,7.3)(7.05,7.38)(7.22,7.35)(7.38,7.32)(7.55,7.35)(7.7,7.3)(7.85,7.32)(8.15,7.48)(8.45,7.5)(8.65,7.45)
(6.42,7.22)(6.55,7.2)(6.65,7.15)(6.8,7.2)(6.95,7.18)(7.08,7.2)(7.22,7.15)(7.38,7.2)(7.5,7.15)(7.65,7.18)(7.8,7.15)(7.95,7.12)(8.08,7.25)(8.22,7.22)(8.38,7.2)(8.65,7.35)(8.7,7.2)
(6.5,7.02)(6.7,7.02)(6.82,7.02)(6.95,7.05)(7.1,7.02)(7.25,7.02)(7.38,7.02)(7.52,7.02)(7.68,7.0)(7.82,7.0)(7.98,7.02)(8.1,6.98)(8.28,7.05)(8.42,7.0)(8.55,7.02)
(6.9,6.85)(7.05,6.88)(7.18,6.82)(7.32,6.88)(7.45,6.85)(7.62,6.85)(7.78,6.85)(7.92,6.82)(8.1,6.88)(8.32,6.82)(8.45,6.78)(8.55,6.88)(6.85,6.7)(7.0,6.72)(7.12,6.65)(7.28,6.7)(7.42,6.68)(7.55,6.72)(7.72,6.7)(7.9,6.68)(8.3,6.68)(8.5,6.65)(8.55,6.6)
(6.92,6.55)(7.05,6.48)(7.2,6.55)(7.32,6.48)(7.5,6.52)(7.62,6.55)(7.78,6.55)(7.88,6.42)(8.2,6.6)(8.18,6.48)(8.25,6.35)(8.22,6.25)(8.3,6.2)(8.38,6.05)(8.2,6.05)(8.35,6.0)
(8.52,6.3)(8.88,6.25)(9.0,6.4)(9.2,6.35)(8.88,6.7)(9.15,6.72)(9.2,6.78)(8.95,6.9)(9.12,6.95)(9.25,7.2)
(7.0,8.58)(7.35,8.72)(7.5,8.72)(7.65,8.72)(7.45,8.58)(6.85,7.72)(6.7,7.75)(6.6,7.78)(7.0,7.6)(6.85,7.62)(7.15,7.58)(7.25,7.45)(7.1,7.1)(7.3,7.1)(7.0,6.28)(7.15,6.4)(6.8,6.45)(7.25,6.15)(7.4,6.12)(7.55,6.2)
% right arm of the top group
(9.3,6.88)(9.4,6.92)(9.48,6.85)(9.55,6.78)(9.62,6.72)(9.7,6.8)(9.72,6.65)(9.82,6.75)(9.9,6.72)(10.0,6.72)(10.1,6.8)(10.2,6.75)(10.3,6.82)(10.42,6.85)(10.5,6.78)
(9.35,6.55)(9.42,6.48)(9.5,6.6)(9.55,6.42)(9.65,6.5)(9.78,6.58)(9.85,6.45)(9.95,6.58)(10.05,6.62)(10.15,6.6)(10.25,6.68)(10.35,6.7)(10.45,6.65)(10.55,6.72)(10.62,6.62)
(9.75,6.35)(9.85,6.32)(9.98,6.38)(10.02,6.28)(10.12,6.42)(10.22,6.5)(10.32,6.55)(10.42,6.52)(10.52,6.5)(10.6,6.5)(10.68,6.45)(10.72,6.52)(10.58,6.38)(10.65,6.35)(10.38,6.3)(10.25,6.38)(10.15,6.32)
(9.6,6.62)(9.9,6.6)(10.3,6.4)(10.45,6.42)(10.05,6.48)(9.75,6.45)
% bottom right group, left arm
(6.36,-5.16)(6.4,-5.18)(6.45,-5.25)(6.5,-5.28)(6.55,-5.32)(6.6,-5.36)(6.65,-5.4)(6.7,-5.42)(6.75,-5.45)(6.8,-5.48)(6.72,-5.5)(6.78,-5.55)(6.85,-5.5)(6.95,-5.58)(7.05,-5.62)(7.1,-5.68)(7.25,-5.78)(7.3,-5.85)(7.38,-5.8)(7.35,-5.9)(7.73,-5.78)(7.6,-6.08)(7.65,-6.18)(7.68,-6.12)(7.49,-6.32)(7.73,-6.61)
% bottom right group, blob
(8.72,-5.38)(8.85,-5.32)(8.95,-5.3)(9.05,-5.32)(9.15,-5.3)(9.28,-5.28)(8.68,-5.45)(8.82,-5.42)(9.0,-5.42)(9.12,-5.42)(9.25,-5.45)(9.38,-5.45)
(8.52,-5.55)(8.6,-5.6)(8.75,-5.55)(8.88,-5.62)(9.1,-5.6)(9.25,-5.6)(9.38,-5.6)(9.48,-5.55)(9.75,-5.6)(9.75,-5.7)
(8.42,-5.72)(8.55,-5.75)(8.72,-5.72)(8.9,-5.75)(9.02,-5.7)(9.15,-5.72)(9.4,-5.72)(9.5,-5.75)(9.62,-5.72)(9.78,-5.85)(8.1,-5.78)(8.28,-5.85)(8.42,-5.9)(8.3,-5.9)
(8.18,-5.95)(8.4,-5.98)(8.55,-5.9)(8.72,-5.88)(8.92,-5.92)(9.18,-5.88)(9.28,-5.95)(9.42,-5.9)(9.6,-5.95)(9.75,-5.98)
(8.1,-6.15)(8.25,-6.08)(8.42,-6.12)(8.6,-6.08)(8.75,-6.05)(8.98,-6.05)(9.15,-6.1)(9.28,-6.08)(9.55,-6.05)(9.72,-6.02)(9.9,-6.02)(10.05,-6.02)
(8.08,-6.32)(8.25,-6.22)(8.4,-6.28)(8.55,-6.25)(8.72,-6.2)(8.9,-6.22)(9.02,-6.25)(9.22,-6.28)(9.4,-6.2)(9.55,-6.2)(9.7,-6.22)(9.85,-6.2)
(8.3,-6.4)(8.45,-6.45)(8.62,-6.38)(8.78,-6.42)(8.95,-6.38)(9.1,-6.42)(9.25,-6.45)(9.45,-6.38)(9.62,-6.35)(9.75,-6.38)(9.9,-6.35)(10.2,-6.42)
(7.9,-6.5)(8.05,-6.5)(8.25,-6.55)(8.42,-6.55)(8.58,-6.52)(8.72,-6.58)(8.9,-6.55)(9.08,-6.58)(9.25,-6.6)(9.4,-6.55)(9.58,-6.52)(9.72,-6.55)(9.85,-6.52)(10.0,-6.55)(10.18,-6.6)
(8.05,-6.7)(8.2,-6.72)(8.38,-6.68)(8.55,-6.72)(8.7,-6.7)(8.88,-6.72)(9.05,-6.72)(9.22,-6.72)(9.38,-6.7)(9.55,-6.72)(9.72,-6.72)(9.88,-6.72)(10.05,-6.7)(10.22,-6.7)
(7.92,-6.88)(8.1,-6.85)(8.28,-6.85)(8.45,-6.85)(8.62,-6.88)(8.8,-6.85)(8.98,-6.88)(9.15,-6.85)(9.32,-6.88)(9.48,-6.85)(9.68,-6.88)(9.85,-6.85)(10.02,-6.88)(10.3,-6.9)
(8.05,-7.02)(8.22,-7.02)(8.4,-7.02)(8.58,-7.02)(8.75,-7.02)(8.92,-7.02)(9.1,-7.0)(9.28,-7.02)(9.45,-7.02)(9.62,-7.02)(9.82,-7.02)(9.98,-7.02)(10.12,-6.98)(10.25,-7.05)
(8.22,-7.18)(8.4,-7.18)(8.58,-7.15)(8.75,-7.18)(8.95,-7.15)(9.12,-7.18)(9.3,-7.15)(9.52,-7.18)(9.78,-7.12)(9.9,-7.15)(10.05,-7.15)(8.25,-7.35)(8.42,-7.32)(8.6,-7.35)(8.78,-7.32)(8.95,-7.3)(9.15,-7.35)(9.32,-7.32)(9.55,-7.3)(9.72,-7.35)(9.85,-7.3)
(8.12,-7.5)(8.3,-7.5)(8.48,-7.48)(8.62,-7.5)(8.78,-7.48)(8.95,-7.52)(9.22,-7.48)(9.42,-7.5)(9.58,-7.45)(9.72,-7.48)(10.02,-7.38)(10.1,-7.38)(10.25,-7.35)(8.1,-7.68)(8.25,-7.65)(8.42,-7.68)(8.62,-7.62)(8.85,-7.65)(9.3,-7.65)(9.42,-7.65)(9.6,-7.62)(9.78,-7.62)(9.95,-7.55)
(8.25,-7.82)(8.42,-7.82)(8.58,-7.78)(8.75,-7.8)(8.92,-7.82)(9.15,-7.78)(9.3,-7.82)(9.48,-7.8)(9.65,-7.78)(9.82,-7.72)(9.98,-7.75)(10.2,-7.85)(10.15,-7.95)
(8.45,-7.98)(8.6,-7.95)(8.78,-7.98)(8.98,-7.95)(9.15,-7.98)(9.32,-7.95)(9.5,-7.98)(9.7,-7.95)(9.9,-7.92)(10.05,-8.02)(8.55,-8.1)(8.75,-8.12)(8.92,-8.12)(9.1,-8.1)(9.28,-8.12)(9.45,-8.15)(9.62,-8.12)(9.85,-8.1)(9.98,-8.05)
(8.68,-8.28)(8.85,-8.25)(9.02,-8.28)(9.22,-8.25)(9.4,-8.28)(9.55,-8.28)(9.92,-8.25)(9.98,-8.35)(8.85,-8.38)(9.0,-8.42)(9.18,-8.4)(9.3,-8.45)(9.45,-8.42)(9.55,-8.5)(9.65,-8.52)(9.38,-8.5)(9.15,-8.45)
% bottom right group, right arm
(10.62,-7.2)(10.8,-7.15)(10.6,-6.42)(10.65,-6.6)(10.62,-6.72)(10.72,-6.82)(10.85,-6.6)(10.88,-6.95)(10.88,-7.02)(11.05,-7.0)(11.1,-6.9)
(11.0,-6.72)(11.05,-6.65)(11.15,-6.8)(11.22,-6.72)(11.3,-6.85)(11.38,-6.78)(11.48,-6.9)(11.58,-6.85)(11.68,-6.78)(11.82,-6.72)(11.05,-6.78)(11.2,-6.55)(11.3,-6.62)(11.42,-6.5)(11.55,-6.58)(11.62,-6.42)(11.5,-6.65)(11.4,-6.68)
(11.75,-6.5)(11.85,-6.45)(11.78,-6.62)(11.95,-6.5)(11.98,-6.38)(11.85,-6.32)(12.02,-6.3)(12.08,-6.22)(12.12,-6.18)(12.18,-6.12)(12.25,-6.05)(11.92,-6.42)(12.0,-6.35)(12.15,-6.2)(11.95,-6.28)
};
\addlegendentry{pbmc}
\end{axis}
\end{tikzpicture}
\end{document}
